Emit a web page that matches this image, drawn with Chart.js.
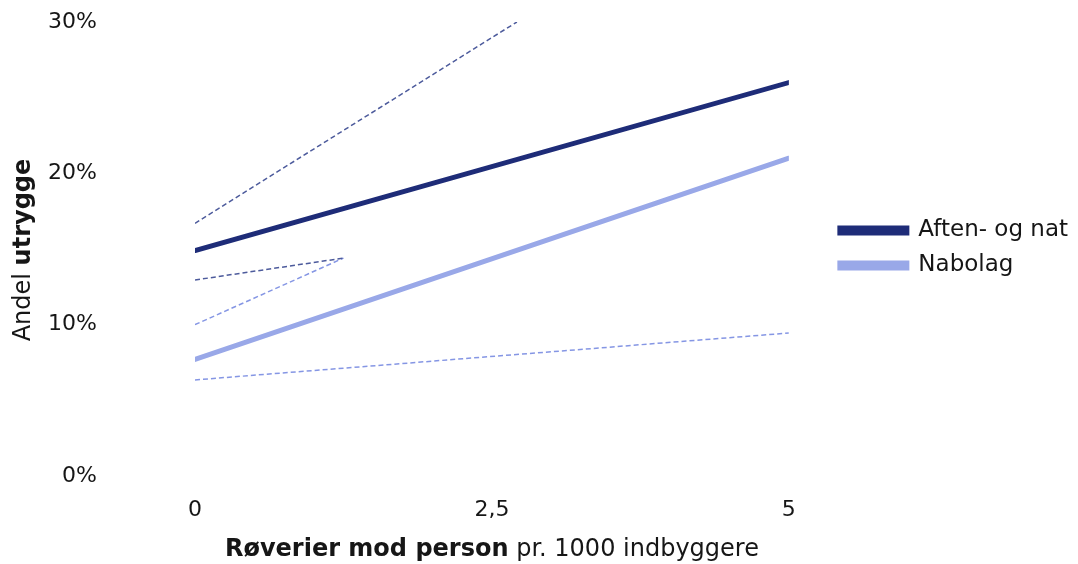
<!DOCTYPE html>
<html>
<head>
<meta charset="utf-8">
<script src="https://cdn.jsdelivr.net/npm/chart.js@4/dist/chart.umd.min.js"></script>
<style>
  html,body{margin:0;padding:0;background:#fff}
  #wrap{width:1078px;height:564px;position:relative}
</style>
</head>
<body>
<div id="wrap"><canvas id="grafica"></canvas></div>
<script>
// data (x = røverier pr. 1000, y = andel i %)
let xTicks = [0, 2.5, 5]
let yTicks = [0, 10, 20, 30]
let aftenX = [0, 5]
let aftenY = [14.9, 26.0]
let naboX = [0, 5]
let naboY = [7.7, 21.0]
// dashed helper lines
let aftenHiX = [0, 2.71]
let aftenHiY = [16.7, 30]
let aftenLoX = [0, 1.25]
let aftenLoY = [12.95, 14.4]
let naboHiX = [0, 1.25]
let naboHiY = [10.0, 14.4]
let naboLoX = [0, 5]
let naboLoY = [6.35, 9.45]

const dark = '#1e2c78'
const light = '#99a8e8'
const fontFam = '"DejaVu Sans", sans-serif'
const txt = '#161616'
const legendGap = 39
const legendLift = 45

function pts(xs, ys){
    return xs.map((x,i)=>({x:x, y:ys[i]}))
}
function dashed(label, xs, ys, color){
    return {label:label, data:pts(xs,ys), borderColor:color, borderWidth:1.5,
        borderDash:[5,3], pointRadius:0, fill:false, legend:false}
}

// extra space between plot and legend, legend centred on the plot
const gapPlugin = {
    id:'gapPlugin',
    beforeLayout(chart){
        let lg = chart.legend
        if(lg && !lg._wrapped){
            let fit = lg.fit
            lg.fit = function(){ fit.call(this); this.width += legendGap }
            lg._wrapped = true
        }
    },
    afterLayout(chart){
        let lg = chart.legend
        if(!lg) return
        lg.left += legendGap
        lg.top -= legendLift
        lg.bottom -= legendLift
    }
}

// axis titles with mixed bold / normal text
const titles = {
    id:'titles',
    afterDraw(chart){
        let ctx = chart.ctx
        ctx.save()
        ctx.fillStyle = txt
        ctx.textBaseline = 'middle'
        // x title
        let b = 'bold 24px ' + fontFam
        let n = '24px ' + fontFam
        ctx.font = b
        let w1 = ctx.measureText('Røverier mod person').width
        ctx.font = n
        let w2 = ctx.measureText(' pr. 1000 indbyggere').width
        let cx = (chart.chartArea.left + chart.chartArea.right)/2
        let sx = cx - (w1+w2)/2
        ctx.font = b
        ctx.textAlign = 'left'
        ctx.fillText('Røverier mod person', sx, 550)
        ctx.font = n
        ctx.fillText(' pr. 1000 indbyggere', sx + w1, 550)
        // y title
        ctx.translate(24, 250)
        ctx.rotate(-Math.PI/2)
        ctx.font = n
        let w3 = ctx.measureText('Andel ').width
        ctx.font = b
        let w4 = ctx.measureText('utrygge').width
        let s = -(w3+w4)/2
        ctx.font = n
        ctx.fillText('Andel ', s, 0)
        ctx.font = b
        ctx.fillText('utrygge', s + w3, 0)
        ctx.restore()
    }
}

let canvas = document.getElementById('grafica').getContext('2d')
window.chart = new Chart(canvas, {
    type:'line',
    data:{
        datasets:[
            {label:'Aften- og nat', data:pts(aftenX,aftenY), borderColor:dark, backgroundColor:dark,
                borderWidth:5, borderCapStyle:'round', pointRadius:0, fill:false},
            {label:'Nabolag', data:pts(naboX,naboY), borderColor:light, backgroundColor:light,
                borderWidth:5, borderCapStyle:'round', pointRadius:0, fill:false},
            dashed('aftenHi', aftenHiX, aftenHiY, '#4d5b9c'),
            dashed('aftenLo', aftenLoX, aftenLoY, '#4d5b9c'),
            dashed('naboHi', naboHiX, naboHiY, '#8596e4'),
            dashed('naboLo', naboLoX, naboLoY, '#8596e4')
        ]
    },
    options:{
        responsive:true,
        maintainAspectRatio:false,
        animation:false,
        layout:{padding:{top:22, right:0, bottom:0, left:0}},
        plugins:{
            tooltip:{enabled:false},
            legend:{
                position:'right',
                align:'center',
                labels:{
                    boxWidth:67, boxHeight:5, padding:12, color:txt,
                    font:{family:fontFam, size:23},
                    filter:(item, data)=> data.datasets[item.datasetIndex].legend !== false
                }
            }
        },
        scales:{
            x:{
                type:'linear', min:0, max:5,
                grid:{display:false, drawTicks:false}, border:{display:false},
                afterBuildTicks:(s)=>{ s.ticks = xTicks.map(v=>({value:v})) },
                afterFit:(s)=>{ s.height = 88; s.paddingLeft = 0; s.paddingRight = 0 },
                ticks:{padding:21, color:txt, font:{family:fontFam, size:22},
                    callback:(v)=> String(v).replace('.', ',')}
            },
            y:{
                min:0, max:30,
                grid:{display:false, drawTicks:false}, border:{display:false},
                afterBuildTicks:(s)=>{ s.ticks = yTicks.map(v=>({value:v})) },
                afterFit:(s)=>{ s.width = 195; s.paddingTop = 0; s.paddingBottom = 0 },
                ticks:{padding:98, color:txt, font:{family:fontFam, size:22},
                    callback:(v)=> v + '%'}
            }
        }
    },
    plugins:[gapPlugin, titles]
})
</script>
</body>
</html>
